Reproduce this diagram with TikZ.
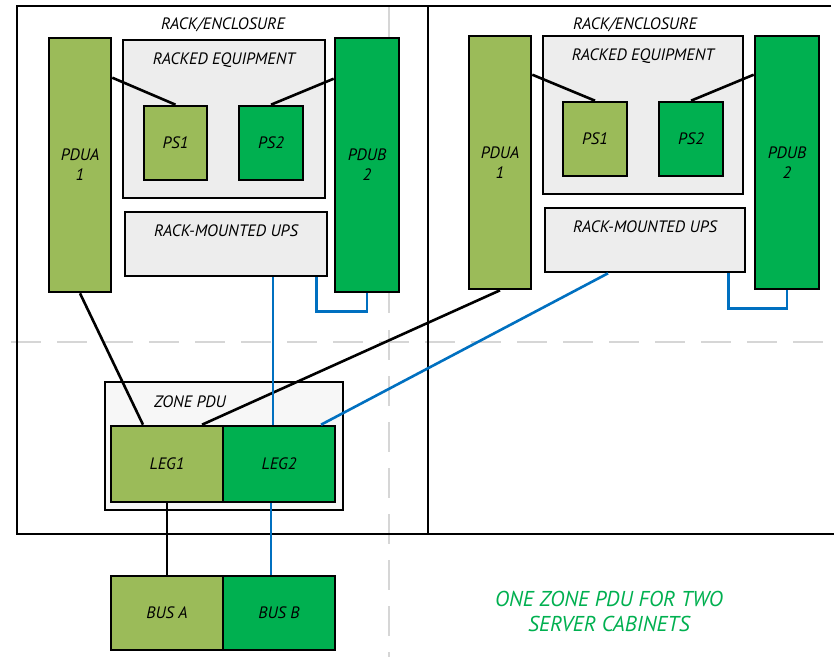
\documentclass[tikz,border=0pt]{standalone}
\usepackage{fontspec}
\setmainfont{PT Sans}
\usetikzlibrary{calc}
\definecolor{pduAcol}{HTML}{9BBB59}
\definecolor{pduBcol}{HTML}{00B050}
\definecolor{eqgray}{HTML}{EDEDED}
\definecolor{zonegray}{HTML}{F7F7F7}
\definecolor{linkblue}{HTML}{0070C0}
\definecolor{guidegray}{HTML}{D6D6D6}
\definecolor{notegreen}{HTML}{00B050}
\begin{document}
\begin{tikzpicture}[x=1pt,y=-1pt,
  font=\itshape\fontsize{16.5}{20}\selectfont,
  box/.style={draw=black, line width=2.6pt, rectangle, inner sep=0pt, align=center},
  boxA/.style={box, fill=pduAcol},
  boxB/.style={box, fill=pduBcol},
  boxG/.style={box, fill=eqgray},
  boxZ/.style={box, fill=zonegray},
  lbl/.style={inner sep=0pt, anchor=center},
  wireK/.style={draw=black, line width=2.6pt},
  wireB/.style={draw=linkblue, line width=2.6pt},
  frame/.style={draw=black, line width=2.6pt},
  guide/.style={draw=guidegray, line width=2pt},
  guidedash/.style={guide, dash pattern=on 30pt off 16pt}
]
\useasboundingbox (0,0) rectangle (834,656);
\fill[white] (0,0) rectangle (834,656);

% guide lines
\draw[guidedash] (11,342) -- (834,342);
\draw[guide] (389,7) -- (389,313);
\draw[guidedash] (389,330) -- (389,660);

% rack frames
\draw[frame] (831,6) -- (17,6) -- (17,534) -- (834,534);
\draw[frame] (428,6) -- (428,534);

\node[lbl] (t1) at (223,25) {RACK/ENCLOSURE};
\node[lbl] (t2) at (635,25) {RACK/ENCLOSURE};

% left rack
\node[boxA, minimum width=62pt, minimum height=254pt] (pa1) at (80,165) {PDUA\\1};
\node[boxG, minimum width=202pt, minimum height=158pt] (re1) at (224,119) {};
\node[lbl] (re1t) at (224,60) {RACKED EQUIPMENT};
\node[boxA, minimum width=63pt, minimum height=74pt] (ps1) at (175.5,143) {PS1};
\node[boxB, minimum width=64pt, minimum height=74pt] (ps2) at (271,143) {PS2};
\node[boxB, minimum width=64pt, minimum height=254pt] (pb1) at (367,165) {PDUB\\2};
\node[boxG, minimum width=202pt, minimum height=64pt] (ups1) at (226,244) {};
\node[lbl] (ups1t) at (226,231) {RACK-MOUNTED UPS};

% right rack
\node[boxA, minimum width=62pt, minimum height=253pt] (pa2) at (500,162.5) {PDUA\\1};
\node[boxG, minimum width=200pt, minimum height=158pt] (re2) at (643,115) {};
\node[lbl] (re2t) at (643,56) {RACKED EQUIPMENT};
\node[boxA, minimum width=64pt, minimum height=74pt] (ps3) at (595,139) {PS1};
\node[boxB, minimum width=64pt, minimum height=74pt] (ps4) at (691,139) {PS2};
\node[boxB, minimum width=64pt, minimum height=253pt] (pb2) at (787,162.5) {PDUB\\2};
\node[boxG, minimum width=200pt, minimum height=64pt] (ups2) at (645,240) {};
\node[lbl] (ups2t) at (645,227) {RACK-MOUNTED UPS};

% zone pdu
\node[boxZ, minimum width=238pt, minimum height=128pt] (zone) at (224,446) {};
\node[lbl] (zonet) at (190,402) {ZONE PDU};
\node[boxA, minimum width=112pt, minimum height=76pt] (leg1) at (167,464) {LEG1};
\node[boxB, minimum width=112pt, minimum height=76pt] (leg2) at (279,464) {LEG2};

% buses
\node[boxA, minimum width=112pt, minimum height=74pt] (busa) at (167,613) {BUS A};
\node[boxB, minimum width=112pt, minimum height=74pt] (busb) at (279,613) {BUS B};

% note
\node[lbl, text=notegreen, align=center, font=\itshape\fontsize{21.5}{25}\selectfont] (note) at (609,611) {ONE ZONE PDU FOR TWO\\SERVER CABINETS};

% connectors left rack
\draw[wireK] ([yshift=-41pt]pa1.north east) -- (ps1.north);
\draw[wireK] ([yshift=-42pt]pb1.north west) -- (ps2.north);
\draw[wireB] ([xshift=-12pt]ups1.south east) -- ++(0,34) -| (pb1.south);
% connectors right rack
\draw[wireK] ([yshift=-40pt]pa2.north east) -- (ps3.north);
\draw[wireK] ([yshift=-40pt]pb2.north west) -- (ps4.north);
\draw[wireB] ([xshift=-18pt]ups2.south east) -- ++(0,35) -| (pb2.south);

% connectors to zone pdu
\draw[wireK] (pa1.south) -- ([xshift=-24pt]leg1.north);
\draw[wireK] (pa2.south) -- ([xshift=35pt]leg1.north);
\draw[wireB] ([xshift=47pt]ups1.south) -- ([xshift=47pt]ups1.south |- leg2.north);
\draw[wireB] ([xshift=-37pt]ups2.south) -- ([xshift=42pt]leg2.north);

% connectors to buses
\draw[wireK] (leg1.south) -- (busa.north);
\draw[wireB] ([xshift=-8pt]leg2.south) -- ([xshift=-8pt]busb.north);
\end{tikzpicture}
\end{document}
